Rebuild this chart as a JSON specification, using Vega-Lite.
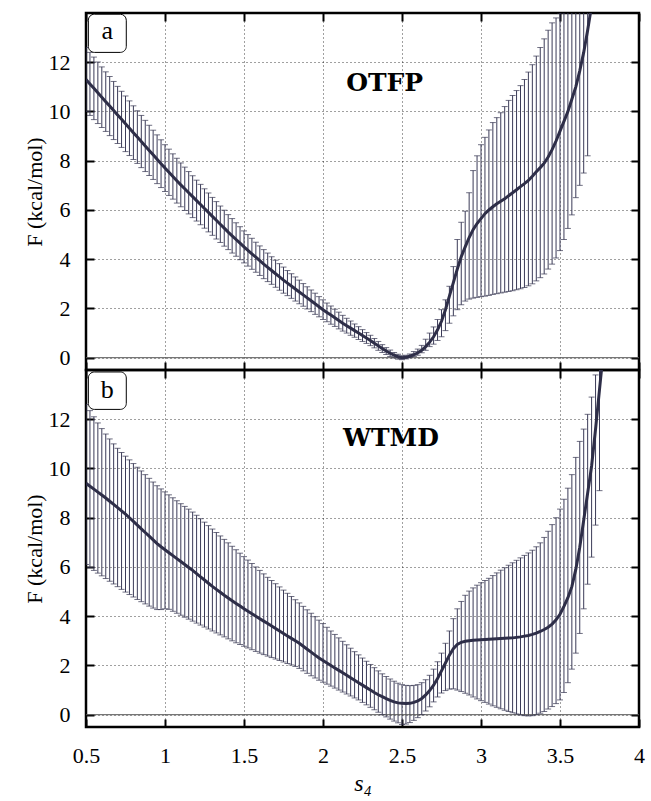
{
  "$schema": "https://vega.github.io/schema/vega-lite/v6.json",
  "padding": {"left": 21, "top": 10, "right": 5, "bottom": 5},
  "background": "white",
  "spacing": 0,
  "bounds": "flush",
  "config": {
    "view": {"stroke": "#000", "strokeWidth": 2.5},
    "font": "Liberation Serif, Times New Roman, Tinos, serif",
    "axis": {
      "labelFont": "Liberation Serif, Times New Roman, Tinos, serif", "labelFontSize": 22, "labelColor": "#000", "labelFlush": false,
      "titleFont": "Liberation Serif, Times New Roman, Tinos, serif", "titleFontSize": 22, "titleFontWeight": "normal", "titleColor": "#000",
      "domain": false, "tickColor": "#000", "tickWidth": 2, "tickSize": -8,
      "gridColor": "#000", "gridDash": [1, 3], "gridWidth": 1, "gridOpacity": 0.75
    }
  },
  "datasets": {
    "a": [
      {"s":0.5,"F":11.3,"lo":10.0,"hi":12.6},
      {"s":0.525,"F":11.12,"lo":9.84,"hi":12.4},
      {"s":0.55,"F":10.94,"lo":9.67,"hi":12.21},
      {"s":0.575,"F":10.76,"lo":9.51,"hi":12.01},
      {"s":0.6,"F":10.58,"lo":9.35,"hi":11.81},
      {"s":0.625,"F":10.4,"lo":9.19,"hi":11.61},
      {"s":0.65,"F":10.22,"lo":9.02,"hi":11.42},
      {"s":0.675,"F":10.04,"lo":8.86,"hi":11.22},
      {"s":0.7,"F":9.86,"lo":8.7,"hi":11.02},
      {"s":0.725,"F":9.68,"lo":8.54,"hi":10.82},
      {"s":0.75,"F":9.5,"lo":8.37,"hi":10.63},
      {"s":0.775,"F":9.32,"lo":8.21,"hi":10.43},
      {"s":0.8,"F":9.14,"lo":8.05,"hi":10.23},
      {"s":0.825,"F":8.96,"lo":7.89,"hi":10.03},
      {"s":0.85,"F":8.78,"lo":7.72,"hi":9.84},
      {"s":0.875,"F":8.6,"lo":7.56,"hi":9.64},
      {"s":0.9,"F":8.42,"lo":7.4,"hi":9.44},
      {"s":0.925,"F":8.24,"lo":7.24,"hi":9.24},
      {"s":0.95,"F":8.06,"lo":7.07,"hi":9.05},
      {"s":0.975,"F":7.88,"lo":6.91,"hi":8.85},
      {"s":1.0,"F":7.7,"lo":6.75,"hi":8.65},
      {"s":1.025,"F":7.53,"lo":6.59,"hi":8.47},
      {"s":1.05,"F":7.36,"lo":6.44,"hi":8.28},
      {"s":1.075,"F":7.19,"lo":6.28,"hi":8.1},
      {"s":1.1,"F":7.02,"lo":6.13,"hi":7.91},
      {"s":1.125,"F":6.86,"lo":5.98,"hi":7.74},
      {"s":1.15,"F":6.7,"lo":5.84,"hi":7.56},
      {"s":1.175,"F":6.54,"lo":5.69,"hi":7.39},
      {"s":1.2,"F":6.38,"lo":5.55,"hi":7.21},
      {"s":1.225,"F":6.22,"lo":5.4,"hi":7.04},
      {"s":1.25,"F":6.06,"lo":5.26,"hi":6.86},
      {"s":1.275,"F":5.9,"lo":5.11,"hi":6.69},
      {"s":1.3,"F":5.74,"lo":4.97,"hi":6.51},
      {"s":1.325,"F":5.58,"lo":4.82,"hi":6.34},
      {"s":1.35,"F":5.42,"lo":4.68,"hi":6.16},
      {"s":1.375,"F":5.26,"lo":4.53,"hi":5.99},
      {"s":1.4,"F":5.1,"lo":4.39,"hi":5.81},
      {"s":1.425,"F":4.95,"lo":4.25,"hi":5.65},
      {"s":1.45,"F":4.8,"lo":4.12,"hi":5.48},
      {"s":1.475,"F":4.65,"lo":3.98,"hi":5.32},
      {"s":1.5,"F":4.5,"lo":3.85,"hi":5.15},
      {"s":1.525,"F":4.36,"lo":3.72,"hi":5.0},
      {"s":1.55,"F":4.22,"lo":3.59,"hi":4.85},
      {"s":1.575,"F":4.08,"lo":3.47,"hi":4.69},
      {"s":1.6,"F":3.94,"lo":3.34,"hi":4.54},
      {"s":1.625,"F":3.8,"lo":3.21,"hi":4.39},
      {"s":1.65,"F":3.67,"lo":3.09,"hi":4.25},
      {"s":1.675,"F":3.54,"lo":2.98,"hi":4.1},
      {"s":1.7,"F":3.41,"lo":2.86,"hi":3.96},
      {"s":1.725,"F":3.28,"lo":2.74,"hi":3.82},
      {"s":1.75,"F":3.15,"lo":2.62,"hi":3.68},
      {"s":1.775,"F":3.03,"lo":2.52,"hi":3.54},
      {"s":1.8,"F":2.91,"lo":2.41,"hi":3.41},
      {"s":1.825,"F":2.79,"lo":2.3,"hi":3.28},
      {"s":1.85,"F":2.67,"lo":2.19,"hi":3.15},
      {"s":1.875,"F":2.55,"lo":2.09,"hi":3.01},
      {"s":1.9,"F":2.43,"lo":1.98,"hi":2.88},
      {"s":1.925,"F":2.31,"lo":1.87,"hi":2.75},
      {"s":1.95,"F":2.19,"lo":1.76,"hi":2.62},
      {"s":1.975,"F":2.07,"lo":1.66,"hi":2.48},
      {"s":2.0,"F":1.95,"lo":1.55,"hi":2.35},
      {"s":2.025,"F":1.84,"lo":1.46,"hi":2.22},
      {"s":2.05,"F":1.73,"lo":1.36,"hi":2.1},
      {"s":2.075,"F":1.62,"lo":1.27,"hi":1.97},
      {"s":2.1,"F":1.51,"lo":1.17,"hi":1.85},
      {"s":2.125,"F":1.4,"lo":1.08,"hi":1.72},
      {"s":2.15,"F":1.3,"lo":1.0,"hi":1.6},
      {"s":2.175,"F":1.2,"lo":0.91,"hi":1.49},
      {"s":2.2,"F":1.1,"lo":0.83,"hi":1.37},
      {"s":2.225,"F":1.0,"lo":0.74,"hi":1.26},
      {"s":2.25,"F":0.9,"lo":0.66,"hi":1.14},
      {"s":2.275,"F":0.8,"lo":0.58,"hi":1.02},
      {"s":2.3,"F":0.7,"lo":0.49,"hi":0.91},
      {"s":2.325,"F":0.59,"lo":0.4,"hi":0.78},
      {"s":2.35,"F":0.48,"lo":0.3,"hi":0.66},
      {"s":2.375,"F":0.37,"lo":0.21,"hi":0.53},
      {"s":2.4,"F":0.27,"lo":0.13,"hi":0.41},
      {"s":2.425,"F":0.18,"lo":0.05,"hi":0.31},
      {"s":2.45,"F":0.1,"lo":-0.01,"hi":0.21},
      {"s":2.475,"F":0.04,"lo":-0.06,"hi":0.14},
      {"s":2.5,"F":0.0,"lo":-0.08,"hi":0.08},
      {"s":2.525,"F":0.02,"lo":-0.05,"hi":0.1},
      {"s":2.55,"F":0.06,"lo":0.0,"hi":0.15},
      {"s":2.575,"F":0.12,"lo":0.05,"hi":0.25},
      {"s":2.6,"F":0.2,"lo":0.1,"hi":0.35},
      {"s":2.625,"F":0.3,"lo":0.2,"hi":0.5},
      {"s":2.65,"F":0.45,"lo":0.3,"hi":0.75},
      {"s":2.675,"F":0.63,"lo":0.45,"hi":1.0},
      {"s":2.7,"F":0.85,"lo":0.55,"hi":1.25},
      {"s":2.725,"F":1.13,"lo":0.7,"hi":1.55},
      {"s":2.75,"F":1.48,"lo":0.85,"hi":1.95},
      {"s":2.775,"F":1.95,"lo":1.1,"hi":2.35},
      {"s":2.8,"F":2.5,"lo":1.4,"hi":2.9},
      {"s":2.825,"F":3.05,"lo":1.7,"hi":3.7},
      {"s":2.85,"F":3.6,"lo":1.95,"hi":4.8},
      {"s":2.875,"F":4.1,"lo":2.15,"hi":5.5},
      {"s":2.9,"F":4.5,"lo":2.3,"hi":5.95},
      {"s":2.925,"F":4.88,"lo":2.38,"hi":6.7},
      {"s":2.95,"F":5.2,"lo":2.42,"hi":7.6},
      {"s":2.975,"F":5.45,"lo":2.45,"hi":8.2},
      {"s":3.0,"F":5.65,"lo":2.48,"hi":8.65},
      {"s":3.025,"F":5.85,"lo":2.5,"hi":8.95},
      {"s":3.05,"F":6.0,"lo":2.53,"hi":9.25},
      {"s":3.075,"F":6.13,"lo":2.57,"hi":9.55},
      {"s":3.1,"F":6.25,"lo":2.6,"hi":9.75},
      {"s":3.125,"F":6.35,"lo":2.63,"hi":9.95},
      {"s":3.15,"F":6.45,"lo":2.66,"hi":10.2},
      {"s":3.175,"F":6.58,"lo":2.69,"hi":10.45},
      {"s":3.2,"F":6.7,"lo":2.72,"hi":10.65},
      {"s":3.225,"F":6.82,"lo":2.76,"hi":10.85},
      {"s":3.25,"F":6.95,"lo":2.8,"hi":11.05},
      {"s":3.275,"F":7.07,"lo":2.85,"hi":11.3},
      {"s":3.3,"F":7.2,"lo":2.92,"hi":11.6},
      {"s":3.325,"F":7.37,"lo":3.0,"hi":11.9},
      {"s":3.35,"F":7.55,"lo":3.12,"hi":12.25},
      {"s":3.375,"F":7.72,"lo":3.25,"hi":12.6},
      {"s":3.4,"F":7.9,"lo":3.4,"hi":12.95},
      {"s":3.425,"F":8.15,"lo":3.6,"hi":13.3},
      {"s":3.45,"F":8.45,"lo":3.8,"hi":13.6},
      {"s":3.475,"F":8.8,"lo":4.05,"hi":13.8},
      {"s":3.5,"F":9.2,"lo":4.35,"hi":14.0},
      {"s":3.525,"F":9.6,"lo":4.8,"hi":14.4},
      {"s":3.55,"F":10.0,"lo":5.25,"hi":14.8},
      {"s":3.575,"F":10.5,"lo":5.8,"hi":15.2},
      {"s":3.6,"F":11.0,"lo":6.5,"hi":15.5},
      {"s":3.625,"F":11.65,"lo":7.0,"hi":16.3},
      {"s":3.65,"F":12.4,"lo":7.5,"hi":17.3},
      {"s":3.675,"F":13.3,"lo":8.2,"hi":18.4},
      {"s":3.7,"F":14.3}
    ],
    "b": [
      {"s":0.5,"F":9.4,"lo":6.1,"hi":12.6},
      {"s":0.525,"F":9.28,"lo":5.98,"hi":12.35},
      {"s":0.55,"F":9.16,"lo":5.86,"hi":12.1},
      {"s":0.575,"F":9.04,"lo":5.75,"hi":11.85},
      {"s":0.6,"F":8.92,"lo":5.64,"hi":11.62},
      {"s":0.625,"F":8.8,"lo":5.53,"hi":11.4},
      {"s":0.65,"F":8.67,"lo":5.42,"hi":11.2},
      {"s":0.675,"F":8.54,"lo":5.31,"hi":11.0},
      {"s":0.7,"F":8.41,"lo":5.2,"hi":10.82},
      {"s":0.725,"F":8.28,"lo":5.09,"hi":10.65},
      {"s":0.75,"F":8.15,"lo":4.98,"hi":10.5},
      {"s":0.775,"F":8.0,"lo":4.88,"hi":10.35},
      {"s":0.8,"F":7.85,"lo":4.78,"hi":10.2},
      {"s":0.825,"F":7.7,"lo":4.68,"hi":10.05},
      {"s":0.85,"F":7.55,"lo":4.59,"hi":9.9},
      {"s":0.875,"F":7.4,"lo":4.5,"hi":9.75},
      {"s":0.9,"F":7.25,"lo":4.41,"hi":9.6},
      {"s":0.925,"F":7.1,"lo":4.33,"hi":9.45},
      {"s":0.95,"F":6.95,"lo":4.27,"hi":9.3},
      {"s":0.975,"F":6.82,"lo":4.27,"hi":9.17},
      {"s":1.0,"F":6.7,"lo":4.3,"hi":9.05},
      {"s":1.025,"F":6.58,"lo":4.28,"hi":8.93},
      {"s":1.05,"F":6.46,"lo":4.2,"hi":8.81},
      {"s":1.075,"F":6.34,"lo":4.12,"hi":8.69},
      {"s":1.1,"F":6.22,"lo":4.04,"hi":8.57},
      {"s":1.125,"F":6.1,"lo":3.96,"hi":8.46},
      {"s":1.15,"F":5.98,"lo":3.88,"hi":8.35},
      {"s":1.175,"F":5.86,"lo":3.8,"hi":8.23},
      {"s":1.2,"F":5.73,"lo":3.72,"hi":8.1},
      {"s":1.225,"F":5.6,"lo":3.64,"hi":7.96},
      {"s":1.25,"F":5.47,"lo":3.56,"hi":7.82},
      {"s":1.275,"F":5.34,"lo":3.48,"hi":7.68},
      {"s":1.3,"F":5.21,"lo":3.4,"hi":7.54},
      {"s":1.325,"F":5.09,"lo":3.32,"hi":7.4},
      {"s":1.35,"F":4.97,"lo":3.24,"hi":7.26},
      {"s":1.375,"F":4.85,"lo":3.16,"hi":7.12},
      {"s":1.4,"F":4.74,"lo":3.08,"hi":6.98},
      {"s":1.425,"F":4.63,"lo":3.0,"hi":6.84},
      {"s":1.45,"F":4.52,"lo":2.92,"hi":6.7},
      {"s":1.475,"F":4.41,"lo":2.85,"hi":6.56},
      {"s":1.5,"F":4.3,"lo":2.78,"hi":6.42},
      {"s":1.525,"F":4.2,"lo":2.71,"hi":6.28},
      {"s":1.55,"F":4.1,"lo":2.64,"hi":6.14},
      {"s":1.575,"F":4.0,"lo":2.57,"hi":6.0},
      {"s":1.6,"F":3.9,"lo":2.5,"hi":5.86},
      {"s":1.625,"F":3.8,"lo":2.44,"hi":5.72},
      {"s":1.65,"F":3.7,"lo":2.38,"hi":5.58},
      {"s":1.675,"F":3.6,"lo":2.32,"hi":5.45},
      {"s":1.7,"F":3.5,"lo":2.26,"hi":5.32},
      {"s":1.725,"F":3.4,"lo":2.2,"hi":5.19},
      {"s":1.75,"F":3.3,"lo":2.14,"hi":5.06},
      {"s":1.775,"F":3.2,"lo":2.08,"hi":4.93},
      {"s":1.8,"F":3.1,"lo":2.02,"hi":4.8},
      {"s":1.825,"F":3.0,"lo":1.96,"hi":4.67},
      {"s":1.85,"F":2.9,"lo":1.88,"hi":4.54},
      {"s":1.875,"F":2.78,"lo":1.78,"hi":4.4},
      {"s":1.9,"F":2.66,"lo":1.68,"hi":4.26},
      {"s":1.925,"F":2.54,"lo":1.58,"hi":4.12},
      {"s":1.95,"F":2.42,"lo":1.49,"hi":3.98},
      {"s":1.975,"F":2.3,"lo":1.4,"hi":3.84},
      {"s":2.0,"F":2.2,"lo":1.32,"hi":3.7},
      {"s":2.025,"F":2.1,"lo":1.24,"hi":3.55},
      {"s":2.05,"F":2.0,"lo":1.16,"hi":3.4},
      {"s":2.075,"F":1.9,"lo":1.08,"hi":3.26},
      {"s":2.1,"F":1.8,"lo":1.0,"hi":3.12},
      {"s":2.125,"F":1.7,"lo":0.92,"hi":2.98},
      {"s":2.15,"F":1.6,"lo":0.84,"hi":2.84},
      {"s":2.175,"F":1.5,"lo":0.76,"hi":2.7},
      {"s":2.2,"F":1.4,"lo":0.68,"hi":2.56},
      {"s":2.225,"F":1.3,"lo":0.6,"hi":2.43},
      {"s":2.25,"F":1.2,"lo":0.5,"hi":2.3},
      {"s":2.275,"F":1.1,"lo":0.4,"hi":2.17},
      {"s":2.3,"F":1.0,"lo":0.3,"hi":2.04},
      {"s":2.325,"F":0.9,"lo":0.2,"hi":1.91},
      {"s":2.35,"F":0.81,"lo":0.1,"hi":1.78},
      {"s":2.375,"F":0.73,"lo":0.0,"hi":1.66},
      {"s":2.4,"F":0.65,"lo":-0.09,"hi":1.55},
      {"s":2.425,"F":0.58,"lo":-0.18,"hi":1.45},
      {"s":2.45,"F":0.52,"lo":-0.26,"hi":1.36},
      {"s":2.475,"F":0.48,"lo":-0.33,"hi":1.28},
      {"s":2.5,"F":0.46,"lo":-0.4,"hi":1.22},
      {"s":2.525,"F":0.45,"lo":-0.38,"hi":1.19},
      {"s":2.55,"F":0.46,"lo":-0.32,"hi":1.18},
      {"s":2.575,"F":0.5,"lo":-0.23,"hi":1.19},
      {"s":2.6,"F":0.56,"lo":-0.12,"hi":1.22},
      {"s":2.625,"F":0.66,"lo":0.0,"hi":1.3},
      {"s":2.65,"F":0.8,"lo":0.15,"hi":1.42},
      {"s":2.675,"F":0.98,"lo":0.32,"hi":1.6},
      {"s":2.7,"F":1.2,"lo":0.52,"hi":1.85},
      {"s":2.725,"F":1.47,"lo":0.72,"hi":2.15},
      {"s":2.75,"F":1.78,"lo":0.88,"hi":2.5},
      {"s":2.775,"F":2.1,"lo":0.98,"hi":2.9},
      {"s":2.8,"F":2.42,"lo":1.04,"hi":3.4},
      {"s":2.825,"F":2.68,"lo":1.05,"hi":3.9},
      {"s":2.85,"F":2.85,"lo":1.0,"hi":4.3},
      {"s":2.875,"F":2.94,"lo":0.94,"hi":4.6},
      {"s":2.9,"F":2.98,"lo":0.87,"hi":4.85},
      {"s":2.925,"F":3.0,"lo":0.8,"hi":5.02},
      {"s":2.95,"F":3.02,"lo":0.72,"hi":5.15},
      {"s":2.975,"F":3.03,"lo":0.64,"hi":5.26},
      {"s":3.0,"F":3.04,"lo":0.57,"hi":5.36},
      {"s":3.025,"F":3.05,"lo":0.5,"hi":5.45},
      {"s":3.05,"F":3.06,"lo":0.43,"hi":5.54},
      {"s":3.075,"F":3.07,"lo":0.36,"hi":5.65},
      {"s":3.1,"F":3.08,"lo":0.3,"hi":5.76},
      {"s":3.125,"F":3.09,"lo":0.24,"hi":5.87},
      {"s":3.15,"F":3.1,"lo":0.18,"hi":5.97},
      {"s":3.175,"F":3.11,"lo":0.13,"hi":6.07},
      {"s":3.2,"F":3.12,"lo":0.08,"hi":6.17},
      {"s":3.225,"F":3.14,"lo":0.03,"hi":6.27},
      {"s":3.25,"F":3.16,"lo":-0.01,"hi":6.37},
      {"s":3.275,"F":3.19,"lo":-0.04,"hi":6.47},
      {"s":3.3,"F":3.22,"lo":-0.05,"hi":6.57},
      {"s":3.325,"F":3.26,"lo":-0.04,"hi":6.68},
      {"s":3.35,"F":3.31,"lo":0.0,"hi":6.82},
      {"s":3.375,"F":3.38,"lo":0.06,"hi":6.98},
      {"s":3.4,"F":3.46,"lo":0.13,"hi":7.2},
      {"s":3.425,"F":3.55,"lo":0.23,"hi":7.45},
      {"s":3.45,"F":3.68,"lo":0.33,"hi":7.72},
      {"s":3.475,"F":3.85,"lo":0.45,"hi":8.0},
      {"s":3.5,"F":4.08,"lo":0.6,"hi":8.35},
      {"s":3.525,"F":4.4,"lo":0.9,"hi":8.75},
      {"s":3.55,"F":4.75,"lo":1.3,"hi":9.2},
      {"s":3.575,"F":5.2,"lo":1.85,"hi":9.75},
      {"s":3.6,"F":5.9,"lo":2.5,"hi":10.45},
      {"s":3.625,"F":6.8,"lo":3.3,"hi":11.1},
      {"s":3.65,"F":7.9,"lo":4.3,"hi":11.6},
      {"s":3.675,"F":9.0,"lo":5.3,"hi":12.2},
      {"s":3.7,"F":10.1,"lo":6.4,"hi":12.9},
      {"s":3.725,"F":11.6,"lo":7.7,"hi":13.8},
      {"s":3.75,"F":13.2,"lo":9.1,"hi":14.6},
      {"s":3.775,"F":14.8}
    ],
    "tagA": [{"tag": "a", "name": "OTFP"}],
    "tagB": [{"tag": "b", "name": "WTMD"}]
  },
  "vconcat": [
    {
      "width": 553, "height": 357,
      "resolve": {"axis": {"x": "independent", "y": "independent"}},
      "layer": [
        {
          "data": {"name": "a"},
          "mark": {"type": "rule", "color": "#3b3b58", "strokeWidth": 1, "clip": true},
          "encoding": {
            "x": {"field": "s", "type": "quantitative", "scale": {"domain": [0.5, 4], "nice": false, "zero": false},
                  "axis": {"orient": "bottom", "values": [0.5, 1, 1.5, 2, 2.5, 3, 3.5, 4], "labels": false, "title": null, "grid": true}},
            "y": {"field": "lo", "type": "quantitative", "scale": {"domain": [-0.5, 14], "nice": false, "zero": false},
                  "axis": {"orient": "left", "values": [0, 2, 4, 6, 8, 10, 12], "format": "~g", "labelPadding": 24, "title": "F (kcal/mol)", "titlePadding": 2, "grid": true}},
            "y2": {"field": "hi"}
          }
        },
        {
          "data": {"values": [{"z": 0}]},
          "mark": {"type": "rule", "color": "#555", "strokeWidth": 1},
          "encoding": {"y": {"field": "z", "type": "quantitative", "axis": null}}
        },
        {
          "data": {"name": "a"},
          "mark": {"type": "tick", "orient": "horizontal", "size": 6, "thickness": 1, "color": "#33334f", "clip": true},
          "encoding": {
            "x": {"field": "s", "type": "quantitative", "axis": null},
            "y": {"field": "lo", "type": "quantitative", "axis": null}
          }
        },
        {
          "data": {"name": "a"},
          "mark": {"type": "tick", "orient": "horizontal", "size": 6, "thickness": 1, "color": "#33334f", "clip": true},
          "encoding": {
            "x": {"field": "s", "type": "quantitative",
                  "axis": {"orient": "top", "values": [0.5, 1, 1.5, 2, 2.5, 3, 3.5, 4], "labels": false, "title": null, "grid": false}},
            "y": {"field": "hi", "type": "quantitative",
                  "axis": {"orient": "right", "values": [0, 2, 4, 6, 8, 10, 12], "labels": false, "title": null, "grid": false}}
          }
        },
        {
          "data": {"name": "a"},
          "mark": {"type": "line", "color": "#2e2e48", "strokeWidth": 3, "clip": true},
          "encoding": {
            "x": {"field": "s", "type": "quantitative", "axis": null},
            "y": {"field": "F", "type": "quantitative", "axis": null}
          }
        },
        {
          "data": {"name": "tagA"},
          "mark": {"type": "rect", "fill": "white", "stroke": "#000", "strokeWidth": 1, "cornerRadius": 6},
          "encoding": {
            "x": {"datum": 0.515, "type": "quantitative", "axis": null},
            "x2": {"datum": 0.755},
            "y": {"datum": 12.4, "type": "quantitative", "axis": null},
            "y2": {"datum": 13.95}
          }
        },
        {
          "data": {"name": "tagA"},
          "mark": {"type": "text", "font": "Liberation Serif, Times New Roman, Tinos, serif", "fontSize": 26, "color": "#000", "baseline": "middle", "align": "center"},
          "encoding": {
            "x": {"datum": 0.635, "type": "quantitative", "axis": null},
            "y": {"datum": 13.25, "type": "quantitative", "axis": null},
            "text": {"field": "tag"}
          }
        },
        {
          "data": {"name": "tagA"},
          "mark": {"type": "text", "font": "DejaVu Serif", "fontSize": 25, "fontWeight": "bold", "color": "#000", "baseline": "middle", "align": "center"},
          "encoding": {
            "x": {"datum": 2.39, "type": "quantitative", "axis": null},
            "y": {"datum": 11.15, "type": "quantitative", "axis": null},
            "text": {"field": "name"}
          }
        }
      ]
    },
    {
      "width": 553, "height": 357,
      "resolve": {"axis": {"x": "independent", "y": "independent"}},
      "layer": [
        {
          "data": {"name": "b"},
          "mark": {"type": "rule", "color": "#3b3b58", "strokeWidth": 1, "clip": true},
          "encoding": {
            "x": {"field": "s", "type": "quantitative", "scale": {"domain": [0.5, 4], "nice": false, "zero": false},
                  "axis": {"orient": "bottom", "values": [0.5, 1, 1.5, 2, 2.5, 3, 3.5, 4], "format": "~g", "labelPadding": 26, "title": "s₄", "titleFontStyle": "italic", "titleFontSize": 24, "titlePadding": 5, "grid": true}},
            "y": {"field": "lo", "type": "quantitative", "scale": {"domain": [-0.5, 14], "nice": false, "zero": false},
                  "axis": {"orient": "left", "values": [0, 2, 4, 6, 8, 10, 12], "format": "~g", "labelPadding": 24, "title": "F (kcal/mol)", "titlePadding": 2, "grid": true}},
            "y2": {"field": "hi"}
          }
        },
        {
          "data": {"values": [{"z": 0}]},
          "mark": {"type": "rule", "color": "#555", "strokeWidth": 1},
          "encoding": {"y": {"field": "z", "type": "quantitative", "axis": null}}
        },
        {
          "data": {"name": "b"},
          "mark": {"type": "tick", "orient": "horizontal", "size": 6, "thickness": 1, "color": "#33334f", "clip": true},
          "encoding": {
            "x": {"field": "s", "type": "quantitative", "axis": null},
            "y": {"field": "lo", "type": "quantitative", "axis": null}
          }
        },
        {
          "data": {"name": "b"},
          "mark": {"type": "tick", "orient": "horizontal", "size": 6, "thickness": 1, "color": "#33334f", "clip": true},
          "encoding": {
            "x": {"field": "s", "type": "quantitative",
                  "axis": {"orient": "top", "values": [0.5, 1, 1.5, 2, 2.5, 3, 3.5, 4], "labels": false, "title": null, "grid": false}},
            "y": {"field": "hi", "type": "quantitative",
                  "axis": {"orient": "right", "values": [0, 2, 4, 6, 8, 10, 12], "labels": false, "title": null, "grid": false}}
          }
        },
        {
          "data": {"name": "b"},
          "mark": {"type": "line", "color": "#2e2e48", "strokeWidth": 3, "clip": true},
          "encoding": {
            "x": {"field": "s", "type": "quantitative", "axis": null},
            "y": {"field": "F", "type": "quantitative", "axis": null}
          }
        },
        {
          "data": {"name": "tagB"},
          "mark": {"type": "rect", "fill": "white", "stroke": "#000", "strokeWidth": 1, "cornerRadius": 6},
          "encoding": {
            "x": {"datum": 0.515, "type": "quantitative", "axis": null},
            "x2": {"datum": 0.755},
            "y": {"datum": 12.4, "type": "quantitative", "axis": null},
            "y2": {"datum": 13.92}
          }
        },
        {
          "data": {"name": "tagB"},
          "mark": {"type": "text", "font": "Liberation Serif, Times New Roman, Tinos, serif", "fontSize": 26, "color": "#000", "baseline": "middle", "align": "center"},
          "encoding": {
            "x": {"datum": 0.635, "type": "quantitative", "axis": null},
            "y": {"datum": 13.2, "type": "quantitative", "axis": null},
            "text": {"field": "tag"}
          }
        },
        {
          "data": {"name": "tagB"},
          "mark": {"type": "text", "font": "DejaVu Serif", "fontSize": 25, "fontWeight": "bold", "color": "#000", "baseline": "middle", "align": "center"},
          "encoding": {
            "x": {"datum": 2.43, "type": "quantitative", "axis": null},
            "y": {"datum": 11.24, "type": "quantitative", "axis": null},
            "text": {"field": "name"}
          }
        }
      ]
    }
  ]
}
